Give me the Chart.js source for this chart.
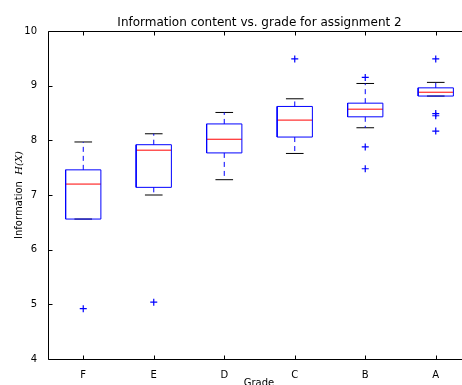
<!DOCTYPE html>
<html>
<head>
<meta charset="utf-8">
<script src="https://cdn.jsdelivr.net/npm/chart.js@4.4.1/dist/chart.umd.min.js"></script>
<style>
  html, body { margin: 0; padding: 0; background: #fff; overflow: hidden; }
  #wrap { width: 462px; height: 385px; overflow: hidden; position: relative; }
  #c { position: absolute; left: 0; top: 0; }
</style>
</head>
<body>
<div id="wrap"><canvas id="c" width="480" height="385"></canvas></div>
<script>
'use strict'

// grades in plotting order
const categories = ['F', 'E', 'D', 'C', 'B', 'A']
// box statistics per grade
const whiskerLow = [6.56, 7.00, 7.28, 7.76, 8.23, 8.81]
const q1 = [6.56, 7.14, 7.77, 8.06, 8.43, 8.81]
const median = [7.20, 7.82, 8.02, 8.37, 8.57, 8.88]
const q3 = [7.46, 7.92, 8.30, 8.62, 8.68, 8.96]
const whiskerHigh = [7.97, 8.12, 8.51, 8.76, 9.04, 9.06]
// fliers per grade
const outliers = [
    [4.92],
    [5.04],
    [],
    [9.49],
    [9.15, 7.88, 7.48],
    [9.49, 8.49, 8.45, 8.17]
]
const yTicks = [4, 5, 6, 7, 8, 9, 10]

const BOX_HALF = 0.25
const CAP_HALF = 0.125

const lineSet = (data, color, dash) => ({
    data: data,
    showLine: true,
    borderColor: color,
    borderWidth: 1,
    borderDash: dash || [],
    pointRadius: 0,
    fill: false
})

const datasets = []
const flierPts = []

categories.forEach((c, i) => {
    const x = i + 1
    // whiskers first so the box sits on top
    datasets.push(lineSet([{ x: x, y: q3[i] }, { x: x, y: whiskerHigh[i] }], '#0000ff', [5, 4]))
    datasets.push(lineSet([{ x: x, y: q1[i] }, { x: x, y: whiskerLow[i] }], '#0000ff', [5, 4]))
    datasets.push(lineSet([
        { x: x - BOX_HALF, y: q1[i] }, { x: x + BOX_HALF, y: q1[i] },
        { x: x + BOX_HALF, y: q3[i] }, { x: x - BOX_HALF, y: q3[i] },
        { x: x - BOX_HALF, y: q1[i] }
    ], '#0000ff'))
    datasets.push(lineSet([{ x: x - CAP_HALF, y: whiskerHigh[i] }, { x: x + CAP_HALF, y: whiskerHigh[i] }], '#000000'))
    datasets.push(lineSet([{ x: x - CAP_HALF, y: whiskerLow[i] }, { x: x + CAP_HALF, y: whiskerLow[i] }], '#000000'))
    datasets.push(lineSet([{ x: x - BOX_HALF, y: median[i] }, { x: x + BOX_HALF, y: median[i] }], '#ff0000'))
    outliers[i].forEach((v) => flierPts.push({ x: x, y: v }))
})

datasets.push({
    data: flierPts,
    showLine: false,
    pointStyle: 'cross',
    pointRadius: 3.5,
    borderColor: '#0000ff',
    borderWidth: 1.2,
    backgroundColor: '#0000ff'
})

// frame, inward ticks and labels drawn like matplotlib
const framePlugin = {
    id: 'frame',
    afterDraw: function (chart) {
        const ctx = chart.ctx
        const a = chart.chartArea
        const xs = chart.scales.x
        const ys = chart.scales.y
        const l = Math.round(a.left) + 0.5
        const t = Math.round(a.top) + 0.5
        const b = Math.round(a.bottom) + 0.5
        const r = Math.round(a.right) + 0.5
        ctx.save()
        // keep the strip past the last box clean, the right spine is off screen
        ctx.fillStyle = '#fff'
        ctx.fillRect(455, t + 1, chart.width - 455, b - t - 2)
        ctx.strokeStyle = '#000'
        ctx.lineWidth = 1
        ctx.setLineDash([])
        ctx.beginPath()
        ctx.moveTo(r, t); ctx.lineTo(l, t); ctx.lineTo(l, b); ctx.lineTo(r, b)
        categories.forEach((c, i) => {
            const px = Math.round(xs.getPixelForValue(i + 1)) + 0.5
            ctx.moveTo(px, b); ctx.lineTo(px, b - 4)
            ctx.moveTo(px, t); ctx.lineTo(px, t + 4)
        })
        yTicks.forEach((v) => {
            const py = Math.round(ys.getPixelForValue(v)) + 0.5
            ctx.moveTo(l, py); ctx.lineTo(l + 4, py)
        })
        ctx.stroke()

        ctx.fillStyle = '#000'
        ctx.textAlign = 'center'
        ctx.textBaseline = 'alphabetic'
        ctx.font = '12px "DejaVu Sans"'
        ctx.fillText('Information content vs. grade for assignment 2', (a.left + a.right) / 2, 26)
        ctx.font = '10px "DejaVu Sans"'
        ctx.fillText('Grade', 259, 386)

        // y label with italic math part
        ctx.translate(22, (a.top + a.bottom) / 2)
        ctx.rotate(-Math.PI / 2)
        const t1 = 'Information  '
        const t2 = 'H(X)'
        ctx.font = '10px "DejaVu Sans"'
        const w1 = ctx.measureText(t1).width
        ctx.font = 'italic 10px "DejaVu Serif"'
        const w2 = ctx.measureText(t2).width
        ctx.textAlign = 'left'
        ctx.font = '10px "DejaVu Sans"'
        ctx.fillText(t1, -(w1 + w2) / 2, 0)
        ctx.font = 'italic 10px "DejaVu Serif"'
        ctx.fillText(t2, -(w1 + w2) / 2 + w1, 0)
        ctx.restore()
    }
}

new Chart(document.getElementById('c'), {
    type: 'scatter',
    data: { datasets: datasets },
    options: {
        responsive: false,
        animation: false,
        events: [],
        layout: { padding: { top: 31, right: 9, left: 0, bottom: 0 } },
        plugins: { legend: { display: false }, tooltip: { enabled: false } },
        scales: {
            x: {
                type: 'linear',
                min: 0.5,
                max: 6.5,
                afterFit: (s) => { s.height = 26 },
                afterBuildTicks: (s) => { s.ticks = categories.map((c, i) => ({ value: i + 1 })) },
                grid: { display: false },
                border: { display: false },
                ticks: {
                    autoSkip: false,
                    maxRotation: 0,
                    padding: 2,
                    color: '#000',
                    font: { family: 'DejaVu Sans', size: 10 },
                    callback: (v) => categories[v - 1]
                }
            },
            y: {
                min: 4,
                max: 10,
                afterFit: (s) => { s.width = 48 },
                afterBuildTicks: (s) => { s.ticks = yTicks.map((v) => ({ value: v })) },
                grid: { display: false },
                border: { display: false },
                ticks: {
                    padding: 3,
                    color: '#000',
                    font: { family: 'DejaVu Sans', size: 10 }
                }
            }
        }
    },
    plugins: [framePlugin]
})
</script>
</body>
</html>
